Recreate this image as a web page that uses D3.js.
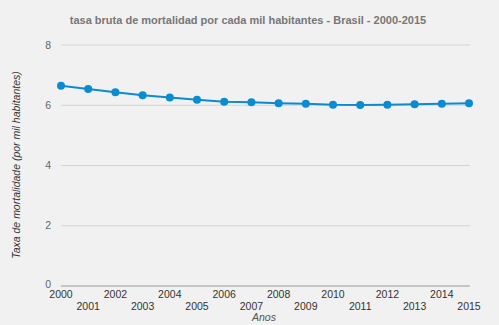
<!DOCTYPE html>
<html><head><meta charset="utf-8">
<script src="https://cdn.jsdelivr.net/npm/d3@7"></script>
<style>body{margin:0;background:#f1f1f1;}svg{display:block;font-family:"Liberation Sans",Arial,sans-serif;}</style>
</head><body>
<script>
const years = [2000,2001,2002,2003,2004,2005,2006,2007,2008,2009,2010,2011,2012,2013,2014,2015];
const rates = [6.65,6.54,6.43,6.33,6.26,6.18,6.12,6.10,6.07,6.05,6.02,6.01,6.02,6.03,6.05,6.07];
const yTicks = [0,2,4,6,8];
const title = "tasa bruta de mortalidad por cada mil habitantes - Brasil - 2000-2015";
const xTitle = "Anos";
const yTitle = "Taxa de mortalidade (por mil habitantes)";

const W = 499, H = 325;
const svg = d3.select("body").append("svg").attr("width", W).attr("height", H);
svg.append("rect").attr("width", W).attr("height", H).attr("fill", "#f1f1f1");

const x = d3.scaleLinear().domain([2000, 2015]).range([61, 469]);
const y = d3.scaleLinear().domain([0, 8]).range([286, 45]);

// grid
svg.append("g").selectAll("line").data(yTicks.filter(d => d > 0)).join("line")
  .attr("x1", 61).attr("x2", 470).attr("y1", d => y(d)).attr("y2", d => y(d))
  .attr("stroke", "#d4d4d4").attr("stroke-width", 1);
svg.append("line").attr("x1", 61).attr("x2", 470).attr("y1", y(0)).attr("y2", y(0))
  .attr("stroke", "#999").attr("stroke-width", 1);

// y tick labels
svg.append("g").selectAll("text").data(yTicks).join("text")
  .attr("x", 51).attr("y", d => d === 0 ? y(d) - 2 : y(d)).attr("dy", "0.35em").attr("text-anchor", "end")
  .attr("font-size", 10.5).attr("fill", "#666").text(d => d);

// x tick labels (alternating rows)
svg.append("g").selectAll("text").data(years).join("text")
  .attr("x", d => x(d)).attr("y", (d, i) => i % 2 === 0 ? 297.5 : 310)
  .attr("text-anchor", "middle").attr("font-size", 10.5).attr("fill", "#333").text(d => d);

// axis titles
svg.append("text").attr("x", 264).attr("y", 321).attr("text-anchor", "middle")
  .attr("font-size", 10.5).attr("font-style", "italic").attr("fill", "#555").text(xTitle);
svg.append("text").attr("transform", "translate(20,165) rotate(-90)").attr("text-anchor", "middle")
  .attr("font-size", 10.5).attr("font-style", "italic").attr("fill", "#333").text(yTitle);

// title
svg.append("text").attr("x", 248).attr("y", 24).attr("text-anchor", "middle")
  .attr("font-size", 11).attr("font-weight", "bold").attr("fill", "#777").text(title);

// line
const data = years.map((yr, i) => ({yr, v: rates[i]}));
svg.append("path").datum(data)
  .attr("d", d3.line().x(d => x(d.yr)).y(d => y(d.v)))
  .attr("fill", "none").attr("stroke", "#0b8bd1").attr("stroke-width", 2);
svg.append("g").selectAll("circle").data(data).join("circle")
  .attr("cx", d => x(d.yr)).attr("cy", d => y(d.v)).attr("r", 4)
  .attr("fill", "#0b8bd1");
</script>
</body></html>
